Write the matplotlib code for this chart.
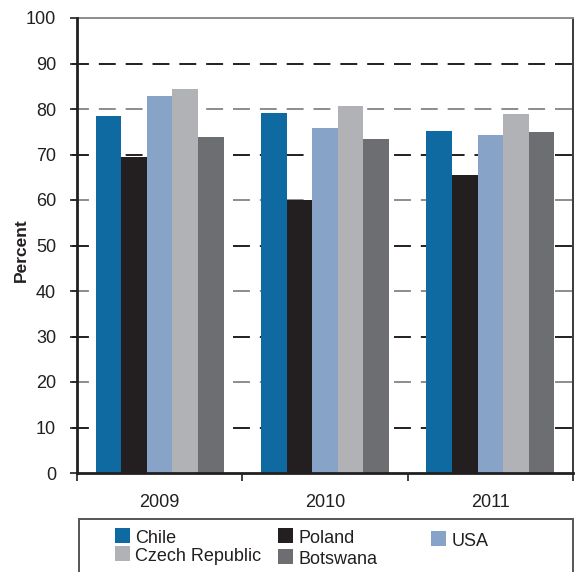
import matplotlib
matplotlib.use("Agg")
import matplotlib.pyplot as plt
from matplotlib.patches import Rectangle
import numpy as np

plt.rcParams['font.family'] = ['Liberation Sans', 'DejaVu Sans']

years = ["2009", "2010", "2011"]
countries = ["Chile", "Poland", "USA", "Czech Republic", "Botswana"]
chile = [78.5, 79.1, 75.2]
poland = [69.5, 60.1, 65.5]
usa = [82.9, 75.8, 74.3]
czech = [84.4, 80.7, 78.9]
botswana = [73.8, 73.4, 74.9]
series = [chile, poland, usa, czech, botswana]
colors = ["#0e6aa0", "#231f20", "#87a4c8", "#b1b2b6", "#6d6e71"]

W, H = 576, 572
fig = plt.figure(figsize=(W / 100, H / 100), dpi=100)

def fx(x):
    return x / W

def fy(y):
    return 1 - y / H

ax = fig.add_axes([fx(77), fy(473), fx(573) - fx(77), fy(18) - fy(473)])

x = np.arange(len(years))
bw = 0.155
for i, (vals, c) in enumerate(zip(series, colors)):
    ax.bar(x + (i - 2) * bw, vals, width=bw, color=c, zorder=3, linewidth=0)

ax.set_xlim(-0.5, 2.5)
ax.set_ylim(0, 100)
ax.set_yticks(np.arange(0, 101, 10))

# dashed grid, alternating dark / grey
dark = "#231f20"
grey = "#8c8c8c"
for v in range(10, 100, 10):
    col = dark if (v // 10) % 2 == 1 else grey
    ax.axhline(v, color=col, lw=1.4, dashes=(8.7, 5.1), zorder=1, clip_on=False,
               xmin=-5 / 496, xmax=1)

for s in ["left", "bottom"]:
    ax.spines[s].set_color(dark)
    ax.spines[s].set_linewidth(2.0)
ax.spines["right"].set_color("#3a3a3a")
ax.spines["right"].set_linewidth(1.4)
ax.spines["top"].set_color(grey)
ax.spines["top"].set_linewidth(1.4)
ax.spines["bottom"].set_zorder(4)
ax.spines["left"].set_zorder(4)

ax.tick_params(axis="y", direction="out", length=5, width=1.2, color=dark,
               labelsize=13, labelcolor=dark, pad=10)
ax.set_xticks(x)
ax.set_xticklabels(years)
ax.tick_params(axis="x", which="major", length=0, labelsize=13,
               labelcolor=dark, pad=15)
ax.set_xticks([-0.5, 0.5, 1.5, 2.5], minor=True)
ax.tick_params(axis="x", which="minor", direction="out", length=6, width=1.2,
               color=dark)

fig.text(fx(21), fy(250), "Percent", rotation=90, ha="center", va="center",
         fontsize=12.5, fontweight="bold", color=dark)

# legend box
fig.patches.append(Rectangle((fx(79), fy(590)), fx(573) - fx(79), fy(519) - fy(590),
                             transform=fig.transFigure, fill=False,
                             edgecolor="#555555", linewidth=1.4))

# legend entries: (series index, square left, square bottom, text left)
entries = [(0, 115, 543, 135), (3, 115, 561, 135),
           (1, 278, 543, 299), (4, 278, 564, 299),
           (2, 431, 546, 452)]
sq = 15
for idx, sx, sb, tx in entries:
    fig.patches.append(Rectangle((fx(sx), fy(sb)), fx(sq), fy(sb - sq) - fy(sb),
                                 transform=fig.transFigure, facecolor=colors[idx],
                                 edgecolor="none"))
    fig.text(fx(tx), fy(sb), countries[idx], ha="left", va="baseline",
             fontsize=13, color=dark)

fig.savefig("out.png", dpi=100)
